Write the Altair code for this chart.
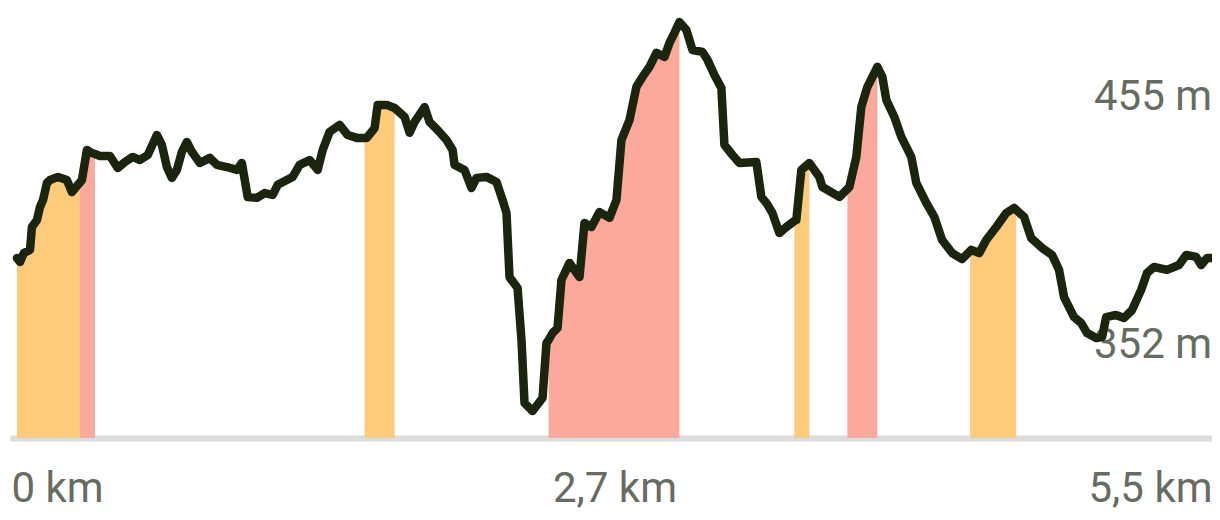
import altair as alt
import pandas as pd

# Elevation profile (distance in km, elevation in m)
km = [0.000, 0.014, 0.032, 0.060, 0.069, 0.092, 0.106, 0.120, 0.138, 0.152,
      0.189, 0.230, 0.253, 0.281, 0.290, 0.299, 0.322, 0.345, 0.359, 0.382,
      0.428, 0.464, 0.497, 0.533, 0.566, 0.602, 0.644, 0.667, 0.690, 0.713,
      0.736, 0.759, 0.782, 0.805, 0.842, 0.888, 0.920, 0.966, 1.012, 1.035,
      1.062, 1.104, 1.140, 1.177, 1.200, 1.242, 1.269, 1.301, 1.347, 1.384,
      1.407, 1.439, 1.485, 1.522, 1.564, 1.600, 1.610, 1.646, 1.660, 1.702,
      1.738, 1.784, 1.807, 1.830, 1.876, 1.899, 1.936, 1.977, 2.005, 2.014,
      2.060, 2.092, 2.115, 2.161, 2.207, 2.235, 2.253, 2.267, 2.304, 2.322,
      2.336, 2.373, 2.419, 2.437, 2.447, 2.465, 2.488, 2.506, 2.543, 2.589,
      2.612, 2.644, 2.681, 2.727, 2.759, 2.782, 2.819, 2.851, 2.879, 2.911,
      2.943, 2.980, 3.003, 3.026, 3.049, 3.081, 3.109, 3.155, 3.178, 3.210,
      3.242, 3.256, 3.293, 3.325, 3.403, 3.426, 3.449, 3.477, 3.509, 3.541,
      3.578, 3.587, 3.610, 3.647, 3.693, 3.707, 3.785, 3.822, 3.831, 3.863,
      3.886, 3.914, 3.937, 3.960, 3.983, 4.001, 4.038, 4.070, 4.116, 4.139,
      4.185, 4.222, 4.258, 4.304, 4.350, 4.387, 4.392, 4.429, 4.461, 4.507,
      4.553, 4.589, 4.599, 4.635, 4.668, 4.718, 4.764, 4.796, 4.819, 4.865,
      4.898, 4.925, 4.967, 4.994, 5.013, 5.058, 5.095, 5.132, 5.174, 5.201,
      5.233, 5.293, 5.348, 5.381, 5.427, 5.450, 5.477, 5.500]
elev = [388.1, 386.5, 390.2, 391.5, 401.0, 403.9, 409.3, 412.2, 419.3, 420.5,
        421.8, 420.5, 415.5, 418.5, 419.5, 420.5, 433.0, 431.7, 431.3, 430.5,
        430.5, 425.5, 428.0, 430.1, 428.8, 430.9, 439.2, 435.1, 425.9, 421.4,
        424.7, 432.2, 436.3, 432.2, 427.6, 429.7, 426.8, 425.9, 424.7, 427.6,
        413.5, 413.1, 415.1, 414.3, 418.5, 420.5, 421.8, 426.8, 428.8, 424.7,
        433.0, 440.5, 443.4, 439.2, 438.0, 438.0, 438.0, 442.1, 451.7, 451.7,
        450.4, 446.7, 440.1, 444.6, 450.8, 444.6, 441.3, 437.1, 433.0, 426.8,
        424.7, 417.2, 421.4, 421.8, 419.7, 412.2, 406.8, 380.2, 375.7, 354.1,
        327.9, 324.6, 330.0, 352.8, 354.1, 357.0, 359.1, 379.0, 386.1, 380.2,
        402.7, 401.0, 407.2, 404.8, 412.2, 437.1, 445.4, 459.2, 463.3, 467.5,
        473.3, 471.6, 477.4, 481.6, 486.1, 482.8, 474.5, 473.7, 470.4, 464.1,
        458.7, 435.1, 430.9, 427.6, 428.0, 413.5, 411.0, 406.8, 398.5, 401.0,
        403.5, 403.9, 424.7, 427.6, 421.8, 417.6, 413.5, 416.8, 417.6, 430.1,
        450.8, 459.2, 463.3, 467.5, 463.3, 453.8, 446.7, 438.4, 430.1, 419.3,
        411.0, 405.2, 395.6, 390.2, 387.7, 391.0, 391.5, 390.2, 395.6, 401.0,
        406.8, 408.9, 408.1, 405.2, 396.4, 392.3, 389.4, 383.2, 371.9, 363.6,
        361.1, 357.0, 354.9, 355.3, 363.6, 364.5, 363.2, 366.5, 374.9, 381.9,
        384.4, 383.2, 385.2, 389.4, 388.6, 385.2, 388.1, 388.1]

# Shaded gradient sections
band_start = [0.000, 0.290, 1.600, 2.447, 3.578, 3.822, 4.387]
band_end = [0.290, 0.359, 1.738, 3.049, 3.647, 3.960, 4.599]
band_grade = ["moderate", "steep", "moderate", "steep", "moderate", "steep", "moderate"]

grade_names = ["moderate", "steep"]
grade_colors = ["#fdcb79", "#fba99a"]

# Axis / label texts
tick_values = [0, 2.75, 5.5]
tick_labels = ["0 km", "2,7 km", "5,5 km"]
elev_label_values = [455, 352]
elev_label_texts = ["455 m", "352 m"]

Y_MIN, Y_MAX = 313.4, 491.1
X_MIN, X_MAX = -0.032, 5.5
LINE_COLOR = "#1b250d"
TEXT_COLOR = "#676c61"
FONT = "Roboto"
FONT_SIZE = 42

profile = pd.DataFrame({"km": km, "elev": elev})

rows = []
for i, (s, e, g) in enumerate(zip(band_start, band_end, band_grade)):
    for k, v in zip(km, elev):
        if s - 1e-9 <= k <= e + 1e-9:
            rows.append({"km": k, "elev": v, "base": Y_MIN, "band": f"b{i}", "grade": g})
bands = pd.DataFrame(rows)

labels = pd.DataFrame({"km": [X_MAX] * len(elev_label_values),
                       "elev": elev_label_values, "text": elev_label_texts})

expr = "''"
for v, t in reversed(list(zip(tick_values, tick_labels))):
    expr = f"(abs(datum.value - {v}) < 1e-6 ? '{t}' : {expr})"

x_scale = alt.Scale(domain=[X_MIN, X_MAX], nice=False, zero=False)
y_scale = alt.Scale(domain=[Y_MIN, Y_MAX], nice=False, zero=False)

x_axis = alt.Axis(
    values=tick_values, labelExpr=expr, title=None, grid=False, ticks=False,
    domain=True, domainColor="#dcdcdc", domainWidth=6,
    labelFont=FONT, labelFontSize=FONT_SIZE, labelColor=TEXT_COLOR, labelPadding=30,
    labelAlign={"condition": [{"test": "datum.value <= 0", "value": "left"},
                              {"test": "datum.value >= 5.5", "value": "right"}],
                "value": "center"},
    labelOffset={"condition": [{"test": "datum.value <= 0", "value": -6}],
                 "value": 0},
)

area = alt.Chart(bands).mark_area(opacity=1, interpolate="linear").encode(
    x=alt.X("km:Q", scale=x_scale, axis=x_axis),
    y=alt.Y("elev:Q", scale=y_scale, axis=None),
    y2=alt.Y2("base:Q"),
    color=alt.Color("grade:N", scale=alt.Scale(domain=grade_names, range=grade_colors), legend=None),
    detail=alt.Detail("band:N"),
)

text = alt.Chart(labels).mark_text(
    align="right", baseline="middle", font=FONT, fontSize=FONT_SIZE, color=TEXT_COLOR
).encode(
    x=alt.X("km:Q", scale=x_scale),
    y=alt.Y("elev:Q", scale=y_scale),
    text="text:N",
)

line = alt.Chart(profile).mark_line(
    color=LINE_COLOR, strokeWidth=8.5, strokeJoin="round", strokeCap="round"
).encode(
    x=alt.X("km:Q", scale=x_scale),
    y=alt.Y("elev:Q", scale=y_scale),
    order="km:Q",
)

chart = alt.layer(area, text, line).properties(
    width=1202, height=428,
    padding={"left": 2, "top": 2, "right": 0, "bottom": 74},
    autosize=alt.AutoSizeParams(type="none"),
    background="white",
).configure_view(stroke=None)

chart.save("out.html", embed_options={"renderer": "svg", "actions": False})
